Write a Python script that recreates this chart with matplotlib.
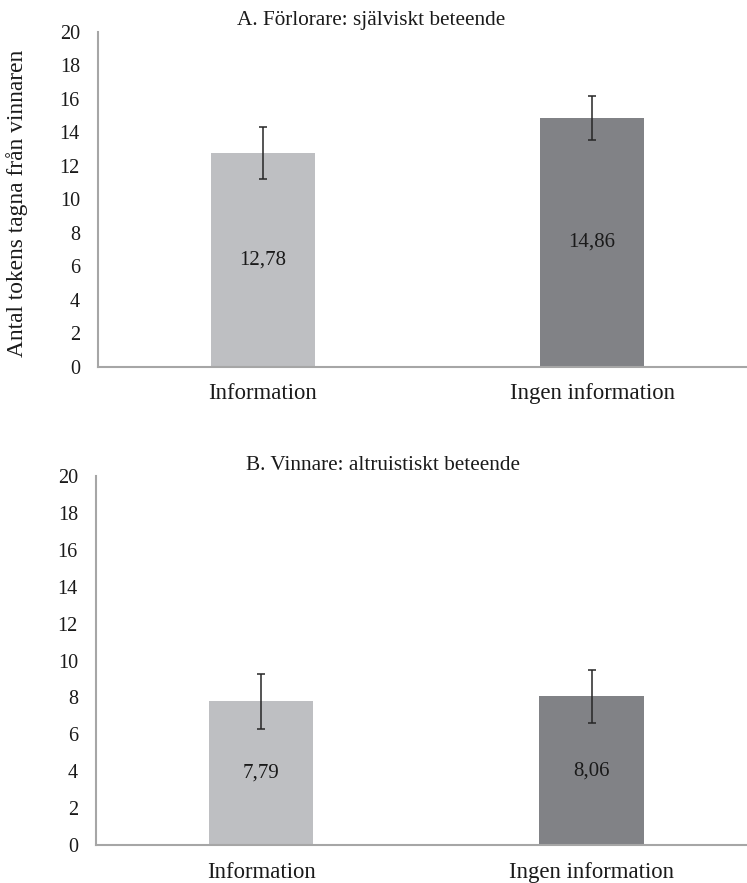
import matplotlib
matplotlib.use("Agg")
import matplotlib.pyplot as plt

plt.rcParams['font.family'] = ['Liberation Serif', 'DejaVu Serif']

categories = ["Information", "Ingen information"]
values_a = [12.78, 14.86]
errors_a = [1.55, 1.32]
values_b = [7.79, 8.06]
errors_b = [1.49, 1.43]
title_a = "A. Förlorare: själviskt beteende"
title_b = "B. Vinnare: altruistiskt beteende"
ylabel = "Antal tokens tagna från vinnaren"
yticks = [0, 2, 4, 6, 8, 10, 12, 14, 16, 18, 20]

bar_colors = ["#BEBFC2", "#818286"]
spine_color = "#A6A6A6"
err_color = "#262626"
text_color = "#1a1a1a"

fig = plt.figure(figsize=(7.47, 8.83), dpi=100)
ax_a = fig.add_axes([0.1312, 0.5847, 0.8688, 0.3791])
ax_b = fig.add_axes([0.1285, 0.0430, 0.8715, 0.4179])

def draw(ax, values, errors):
    x = list(range(len(categories)))
    ax.bar(x, values, width=0.316, color=bar_colors, zorder=2)
    ax.errorbar(x, values, yerr=errors, fmt='none', ecolor=err_color,
                elinewidth=1.1, capsize=3.0, capthick=1.1, zorder=3)
    for xi, v in zip(x, values):
        ax.text(xi, v / 2, f"{v:.2f}".replace('.', ','), ha='center',
                va='center', fontsize=15, color=text_color, zorder=4)
    ax.set_xlim(-0.5, 1.47)
    ax.set_ylim(0, 20)
    ax.set_yticks(yticks)
    ax.set_yticklabels([str(t) for t in yticks])
    ax.set_xticks(x)
    ax.set_xticklabels(categories)
    for s in ['top', 'right']:
        ax.spines[s].set_visible(False)
    for s in ['left', 'bottom']:
        ax.spines[s].set_color(spine_color)
        ax.spines[s].set_linewidth(1.5)
    ax.tick_params(axis='y', length=0, pad=13, labelsize=14.5, colors=text_color)
    ax.tick_params(axis='x', length=0, pad=12, labelsize=16.4, colors=text_color)

draw(ax_a, values_a, errors_a)
draw(ax_b, values_b, errors_b)

fig.text(371 / 747, 1 - 20 / 883, title_a, ha='center', va='center',
         fontsize=15.3, color=text_color)
fig.text(383 / 747, 1 - 465 / 883, title_b, ha='center', va='center',
         fontsize=15.3, color=text_color)
fig.text(17 / 747, 1 - 203 / 883, ylabel, ha='center', va='center',
         rotation=90, fontsize=16.8, color=text_color)

fig.savefig("out.png", dpi=100)
